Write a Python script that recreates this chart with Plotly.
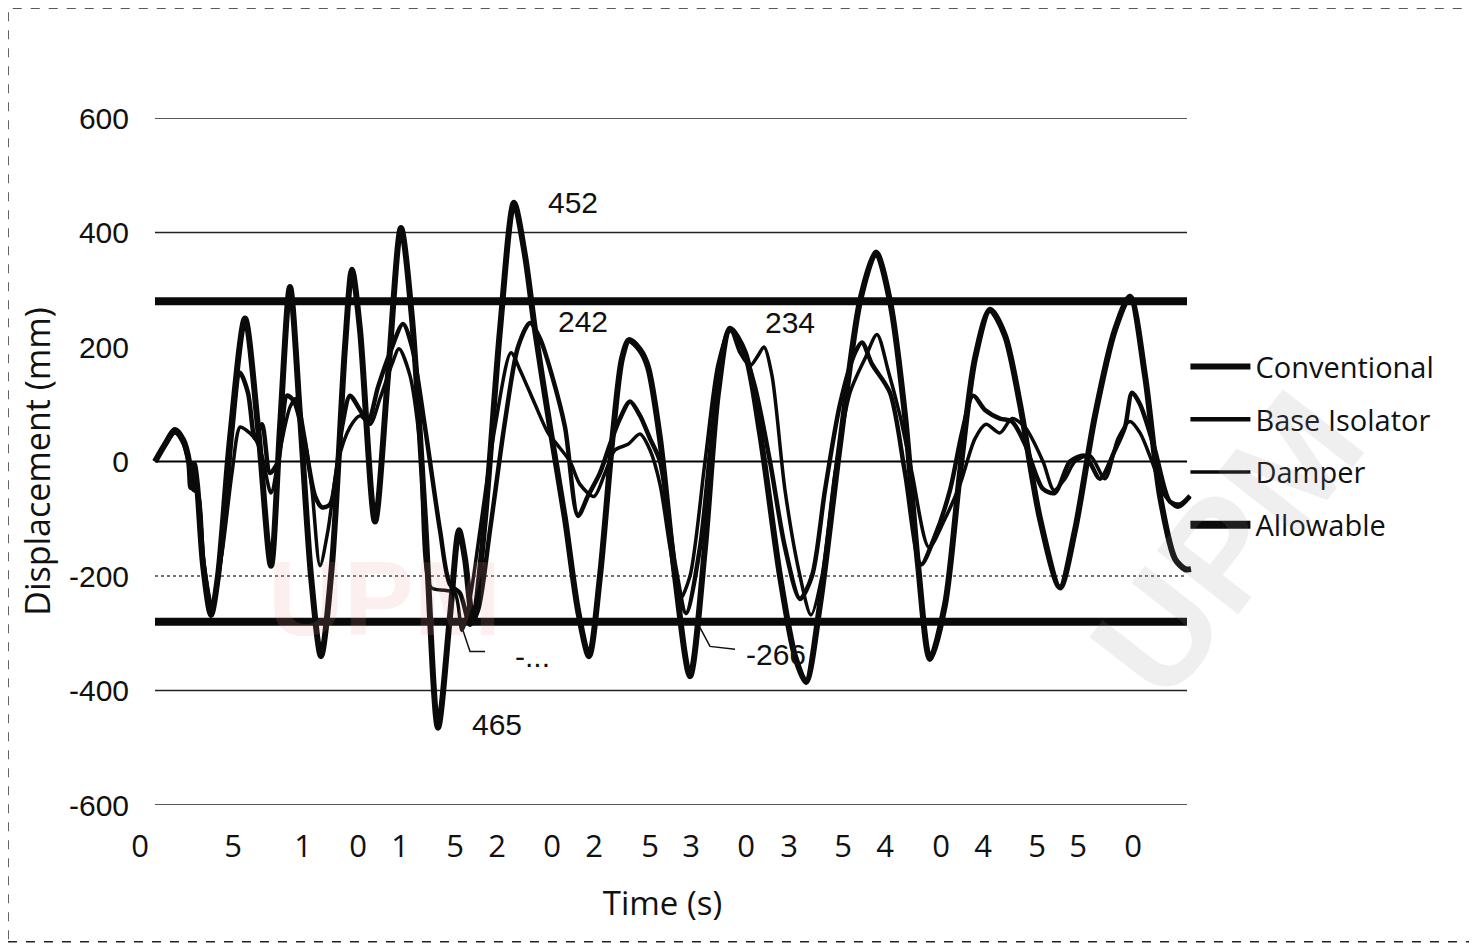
import plotly.graph_objects as go

# ---------------- data ----------------
conv_t = [0.75, 1.25, 1.75, 2.15, 2.45, 2.55, 2.7, 2.85, 3.15, 3.55, 3.9, 4.5, 5.25, 5.9, 6.55, 7.0, 7.5, 8.0,
          8.55, 9.05, 9.6, 10.25, 10.6, 11.0, 11.75, 12.4, 13.05, 13.6, 14.25, 14.9, 15.5, 15.95, 16.25, 16.65,
          17.25, 18.0, 18.7, 19.25, 19.75, 20.5, 21.25, 21.9, 22.45, 23.0, 23.65, 24.1, 24.45, 25.0, 25.4, 26.0,
          26.75, 27.5, 28.25, 28.9, 29.5, 30.25, 31.0, 32.0, 32.75, 33.3, 34.0, 35.0, 36.0, 36.8, 37.5, 38.25,
          38.9, 39.5, 40.25, 41.0, 41.75, 42.5, 43.25, 44.0, 45.0, 46.0, 46.75, 47.75, 48.75, 49.5, 50.25, 51.0,
          51.75, 52.25, 52.55]
conv_v = [0, 30, 55, 38, 0, -45, -5, -40, -180, -268, -200, 40, 250, 60, -182, 60, 305, 80,
          -200, -340, -180, 200, 335, 230, -105, 150, 408, 250, -100, -465, -270, -120, -170, -280,
          -100, 230, 452, 360, 230, 60, -100, -260, -340, -200, 50, 180, 212, 195, 165, 40,
          -200, -375, -150, 120, 232, 190, 50, -200, -340, -385, -250, 30, 280, 365, 280, 80,
          -180, -345, -250, -20, 180, 265, 220, 100, -100, -220, -120, 80, 230, 288, 150, -60,
          -170, -188, -188]

iso_t = [0.75, 1.25, 1.75, 2.15, 2.45, 2.6, 2.85, 3.15, 3.6, 4.1, 4.6, 5.0, 5.4, 5.75, 6.1, 6.5, 6.9, 7.35,
         7.7, 8.25, 8.75, 9.1, 9.5, 10.1, 10.5, 11.0, 11.4, 11.9, 12.5, 13.15, 13.6, 14.25, 15.0, 15.5, 16.0,
         16.5, 16.9, 17.5, 18.25, 18.9, 19.5, 20.0, 20.6, 21.25, 21.9, 22.4, 23.0, 23.5, 24.0, 24.5, 25.0,
         25.5, 26.0, 26.75, 27.3, 28.0, 28.6, 29.1, 29.5, 30.1, 30.75, 31.5, 32.25, 33.0, 33.6, 34.25, 35.0,
         35.75, 36.1, 36.6, 37.5, 38.25, 39.05, 39.75, 40.5, 41.1, 41.65, 42.25, 43.0, 43.6, 44.25, 45.15,
         45.75, 46.5, 47.25, 48.0, 48.75, 49.25, 49.6, 50.0, 50.75, 51.5, 52.0, 52.5]
iso_v = [0, 30, 52, 35, 0, -40, -50, -170, -255, -150, 50, 155, 120, 40, 65, -20, 0, 115,
         105, 30, -60, -80, -75, 60, 115, 90, 70, 130, 190, 240, 200, 60, -120, -215, -230,
         -285, -260, -120, 70, 200, 242, 215, 150, 60, -95, -60, -20, 30, 75, 105, 80,
         40, 0, -180, -265, -150, 50, 190, 230, 200, 130, 0, -150, -240, -200, -50, 100,
         190, 208, 170, 120, -20, -180, -130, -50, 50, 115, 90, 75, 70, 30, -48,
         -55, 0, 10, -30, 20, 60, 120, 100, 20, -70, -75, -60]

dmp_t = [0.75, 1.25, 1.75, 2.15, 2.45, 2.65, 2.9, 3.2, 3.6, 4.1, 4.6, 5.0, 5.3, 5.75, 6.1, 6.55, 7.0, 7.5,
         7.8, 8.25, 8.6, 9.0, 9.4, 9.9, 10.5, 11.0, 11.5, 12.0, 12.6, 12.95, 13.5, 14.0, 14.55, 15.25, 15.75,
         16.1, 16.5, 17.0, 17.75, 18.55, 19.0, 19.75, 20.4, 20.85, 21.5, 22.0, 22.7, 23.25, 23.75, 24.4, 25.0,
         25.5, 26.0, 26.5, 27.0, 27.5, 28.25, 28.9, 29.5, 30.0, 30.5, 30.9, 31.2, 31.6, 32.25, 33.0, 33.55,
         34.1, 34.75, 35.5, 36.25, 36.85, 37.4, 38.0, 38.6, 39.45, 40.25, 41.0, 41.75, 42.3, 43.0, 43.6, 44.25,
         45.15, 45.7, 46.25, 46.75, 47.5, 48.25, 48.9, 49.5, 50.0, 50.6, 51.25, 51.9, 52.5]
dmp_v = [0, 28, 50, 32, -5, -50, -55, -180, -250, -160, -20, 60, 55, 40, 10, -55, 20, 95,
         110, 40, -50, -182, -120, 0, 60, 80, 65, 110, 170, 197, 150, 30, -220, -225, -230,
         -295, -240, -120, 60, 190, 160, 100, 50, 30, 0, -40, -61, -20, 20, 30, 48,
         20, -40, -150, -240, -200, 0, 170, 232, 190, 167, 185, 200, 150, -50, -200, -268,
         -200, -20, 120, 180, 222, 160, 80, -20, -150, -100, -40, 40, 65, 50, 75, 60,
         0, -50, -30, 0, 10, -30, 40, 70, 50, 0, -60, -80, -62]

allowable = 280
line_span = [0.75, 52.35]

y_ticks = [600, 400, 200, 0, -200, -400, -600]
y_ticktext = ["600", "400", "200", "0", "-200", "-400", "-600"]

x_tickvals = [0, 4.65, 8.15, 10.9, 13.0, 15.75, 17.85, 20.6, 22.7, 25.5, 27.55, 30.3, 32.45, 35.15,
              37.25, 40.05, 42.15, 44.85, 46.9, 49.65]
x_ticktext = ["0", "5", "1", "0", "1", "5", "2", "0", "2", "5", "3", "0", "3", "5", "4", "0", "4", "5",
              "5", "0"]

labels = [("452", 21.65, 452), ("242", 22.15, 245), ("234", 32.5, 243), ("465", 17.85, -459),
          ("-266", 31.8, -337), ("-...", 19.6, -340)]

# ---------------- figure ----------------
fig = go.Figure()

fig.add_trace(go.Scatter(x=conv_t, y=conv_v, mode="lines", name="Conventional",
                         line=dict(color="#0a0a0a", width=6, shape="spline", smoothing=0.8),
                         legendgroup="a"))
fig.add_trace(go.Scatter(x=iso_t, y=iso_v, mode="lines", name="Base Isolator",
                         line=dict(color="#0a0a0a", width=4.5, shape="spline", smoothing=0.8),
                         legendgroup="b"))
fig.add_trace(go.Scatter(x=dmp_t, y=dmp_v, mode="lines", name="Damper",
                         line=dict(color="#0a0a0a", width=3.5, shape="spline", smoothing=0.8),
                         legendgroup="c"))
fig.add_trace(go.Scatter(x=[line_span[0], line_span[1], None, line_span[0], line_span[1]],
                         y=[allowable, allowable, None, -allowable, -allowable],
                         mode="lines", name="Allowable",
                         line=dict(color="#0a0a0a", width=8), legendgroup="d"))

shapes = []
# gridlines
for gv in [600, 400, -400, -600]:
    shapes.append(dict(type="line", xref="x", yref="y", x0=line_span[0], x1=line_span[1], y0=gv, y1=gv,
                       line=dict(color="#222", width=1.6), layer="below"))
shapes.append(dict(type="line", xref="x", yref="y", x0=line_span[0], x1=line_span[1], y0=-200, y1=-200,
                   line=dict(color="#444", width=1.6, dash="dot"), layer="below"))
shapes.append(dict(type="line", xref="x", yref="y", x0=line_span[0], x1=line_span[1], y0=0, y1=0,
                   line=dict(color="#000", width=2), layer="below"))
# leader lines
shapes.append(dict(type="path", xref="x", yref="y", path="M 16.1 -290 L 16.5 -332 L 17.25 -332",
                   line=dict(color="#111", width=1.5)))
shapes.append(dict(type="path", xref="x", yref="y", path="M 28.0 -290 L 28.5 -323 L 29.75 -328",
                   line=dict(color="#111", width=1.5)))
# page border (scan frame)
shapes.append(dict(type="rect", xref="paper", yref="paper", x0=-0.1146, x1=1.262, y0=-0.199, y1=1.16,
                   line=dict(color="#222", width=1.5, dash="dash"), layer="below"))

annotations = []
for txt, tx, ty in labels:
    annotations.append(dict(x=tx, y=ty, xref="x", yref="y", text=txt, showarrow=False,
                            font=dict(family="Liberation Sans, Arial, sans-serif", size=30, color="#111")))
# faint watermark
annotations.append(dict(x=0.239, y=0.30, xref="paper", yref="paper", xanchor="center", yanchor="middle",
                        text="<b>UPM</b>", showarrow=False,
                        font=dict(family="Liberation Sans", size=105, color="rgba(230,150,150,0.15)")))
annotations.append(dict(x=1.03, y=0.38, xref="paper", yref="paper", xanchor="center", yanchor="middle",
                        text="<b>UPM</b>", showarrow=False, textangle=-52,
                        font=dict(family="Liberation Sans", size=150, color="rgba(150,150,150,0.15)")))

fig.update_layout(
    width=1469, height=939,
    margin=dict(l=122, r=282, t=110, b=142),
    paper_bgcolor="white", plot_bgcolor="rgba(0,0,0,0)",
    showlegend=True,
    legend=dict(x=0.991, y=0.675, xanchor="left", yanchor="top", tracegroupgap=12,
                font=dict(family="Open Sans, sans-serif", size=29, color="#111"),
                bgcolor="rgba(0,0,0,0)", itemwidth=60),
    shapes=shapes, annotations=annotations,
)
fig.update_xaxes(range=[-0.5, 52.75], showgrid=False, zeroline=False, showline=False,
                 tickmode="array", tickvals=x_tickvals, ticktext=x_ticktext, ticks="",
                 ticklabelstandoff=20,
                 tickfont=dict(family="Open Sans, sans-serif", size=31, color="#111"),
                 title=dict(text="Time (s)", standoff=26,
                            font=dict(family="Open Sans, sans-serif", size=33, color="#111")))
fig.update_yaxes(range=[-600, 600], showgrid=False, zeroline=False, showline=False,
                 tickmode="array", tickvals=y_ticks, ticktext=y_ticktext, ticks="",
                 tickfont=dict(family="Liberation Sans, Arial, sans-serif", size=30, color="#111"),
                 title=dict(text="Displacement (mm)", standoff=8,
                            font=dict(family="Open Sans, sans-serif", size=34, color="#111")))

fig.write_html("out.html")
